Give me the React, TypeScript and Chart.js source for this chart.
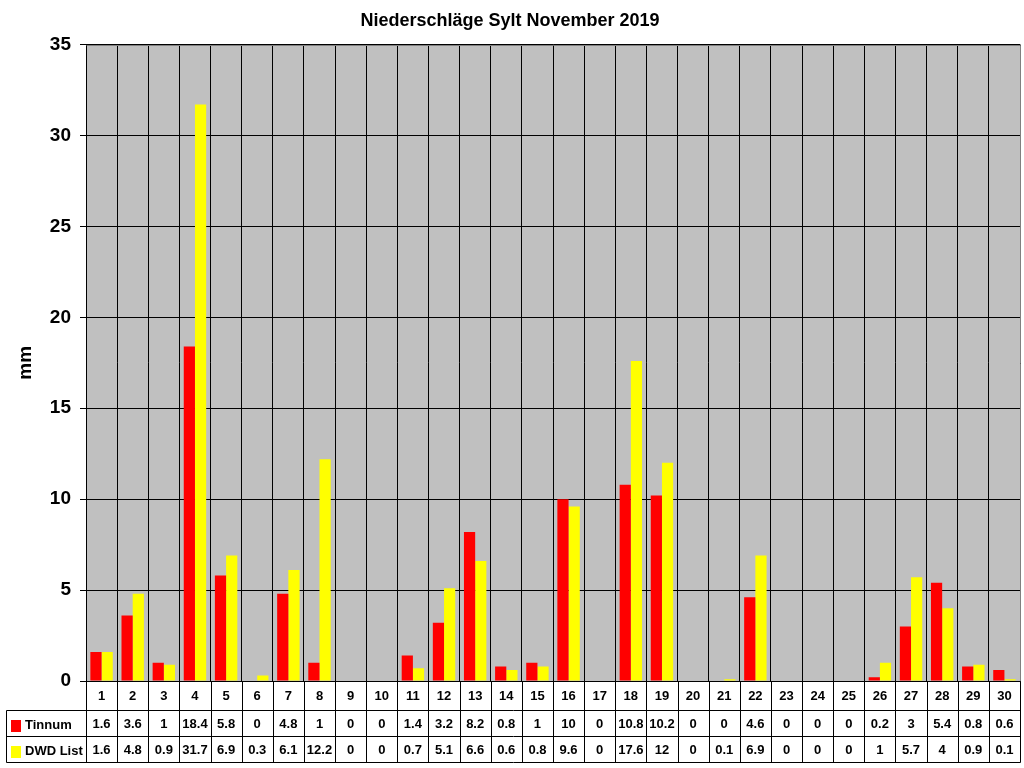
import { useEffect, useRef } from "react";
import { Chart, registerables } from "chart.js";

Chart.register(...registerables);

const days = ["1","2","3","4","5","6","7","8","9","10","11","12","13","14","15","16","17","18","19","20","21","22","23","24","25","26","27","28","29","30"];
const tinnum = [1.6, 3.6, 1, 18.4, 5.8, 0, 4.8, 1, 0, 0, 1.4, 3.2, 8.2, 0.8, 1, 10, 0, 10.8, 10.2, 0, 0, 4.6, 0, 0, 0, 0.2, 3, 5.4, 0.8, 0.6];
const dwdList = [1.6, 4.8, 0.9, 31.7, 6.9, 0.3, 6.1, 12.2, 0, 0, 0.7, 5.1, 6.6, 0.6, 0.8, 9.6, 0, 17.6, 12, 0, 0.1, 6.9, 0, 0, 0, 1, 5.7, 4, 0.9, 0.1];
const seriesNames = ["Tinnum", "DWD List"];
const seriesColors = ["#FF0000", "#FFFF00"];
const yMin = 0;
const yMax = 35;
const yStep = 5;
const titleText = "Niederschläge Sylt November 2019";
const yTitle = "mm";

const FONT = "'Liberation Sans', Arial, sans-serif";

const tablePlugin = {
  id: "dataTable",
  beforeDraw(chart: any) {
    const { ctx, chartArea } = chart;
    const { left, top, right, bottom } = chartArea;
    ctx.save();
    ctx.fillStyle = "#C0C0C0";
    ctx.fillRect(left, top, right - left, bottom - top);
    ctx.restore();
  },
  afterDraw(chart: any) {
    const { ctx, chartArea } = chart;
    const { left, top, right, bottom } = chartArea;
    const xs = chart.scales.x;
    const n = chart.data.labels.length;
    const w = xs.getPixelForValue(1) - xs.getPixelForValue(0);
    const px = (v: number) => Math.round(v) + 0.5;

    ctx.save();
    ctx.strokeStyle = "#808080";
    ctx.lineWidth = 1;
    ctx.beginPath();
    ctx.moveTo(px(left), px(top));
    ctx.lineTo(px(right), px(top));
    ctx.lineTo(px(right), px(bottom));
    ctx.stroke();

    const r0 = bottom;
    const r1 = bottom + 29;
    const r2 = r1 + 26;
    const r3 = r2 + 26;
    const tableLeft = 6;

    ctx.strokeStyle = "#000";
    ctx.beginPath();
    ctx.moveTo(px(left), px(r0));
    ctx.lineTo(px(right), px(r0));
    [r1, r2, r3].forEach((y) => {
      ctx.moveTo(px(tableLeft), px(y));
      ctx.lineTo(px(right), px(y));
    });
    ctx.moveTo(px(tableLeft), px(r1));
    ctx.lineTo(px(tableLeft), px(r3));
    for (let i = 0; i <= n; i++) {
      const x = xs.getPixelForValue(0) - w / 2 + i * w;
      ctx.moveTo(px(x), px(r0));
      ctx.lineTo(px(x), px(r3));
    }
    ctx.stroke();

    const rows = [
      { top: r1, bottom: r2 },
      { top: r2, bottom: r3 },
    ];
    chart.data.datasets.forEach((ds: any, di: number) => {
      const row = rows[di];
      const cy = (row.top + row.bottom) / 2;
      ctx.fillStyle = ds.backgroundColor;
      ctx.fillRect(11, row.top + 10, 10, 12);
      ctx.fillStyle = "#000";
      ctx.font = `bold 13px ${FONT}`;
      ctx.textAlign = "left";
      ctx.textBaseline = "middle";
      ctx.fillText(ds.label, 25, cy + 2);
      ctx.textAlign = "center";
      ds.data.forEach((v: number, i: number) => {
        ctx.fillText(String(v), xs.getPixelForValue(i), cy + 1);
      });
    });
    ctx.restore();
  },
};

export default function App() {
  const ref = useRef<HTMLCanvasElement>(null);
  useEffect(() => {
    if (!ref.current) return;
    const chart = new Chart(ref.current, {
      type: "bar",
      data: {
        labels: days,
        datasets: [
          { label: seriesNames[0], data: tinnum, backgroundColor: seriesColors[0], borderWidth: 0 },
          { label: seriesNames[1], data: dwdList, backgroundColor: seriesColors[1], borderWidth: 0 },
        ],
      },
      options: {
        responsive: false,
        animation: false,
        devicePixelRatio: 1,
        layout: { padding: { left: 0, right: 4, top: 0, bottom: 0 } },
        datasets: {
          bar: { categoryPercentage: 0.72, barPercentage: 1 },
        },
        plugins: {
          legend: { display: false },
          tooltip: { enabled: false },
          title: {
            display: true,
            text: titleText,
            color: "#000",
            font: { family: FONT, size: 18, weight: "bold", lineHeight: 1.2 },
            padding: { top: 10, bottom: 13 },
          },
        },
        scales: {
          x: {
            offset: true,
            grid: { display: true, color: "#000", drawTicks: false, offset: true, lineWidth: 1 },
            border: { display: true, color: "#000" },
            ticks: {
              color: "#000",
              font: { family: FONT, size: 13, weight: "bold" },
              padding: 8,
              maxRotation: 0,
              autoSkip: false,
            },
            afterFit: (scale: any) => {
              scale.height = 87;
            },
          },
          y: {
            min: yMin,
            max: yMax,
            grid: { color: "#000", tickColor: "#000", tickLength: 6, drawTicks: true, lineWidth: 1 },
            border: { display: true, color: "#000" },
            ticks: {
              stepSize: yStep,
              color: "#000",
              font: { family: FONT, size: 19, weight: "bold" },
              padding: 9,
            },
            title: {
              display: true,
              text: yTitle,
              color: "#000",
              font: { family: FONT, size: 19, weight: "bold", lineHeight: 1.2 },
              padding: { top: 14, bottom: 0 },
            },
            afterFit: (scale: any) => {
              scale.width = 86;
            },
          },
        },
      },
      plugins: [tablePlugin],
    } as any);
    return () => chart.destroy();
  }, []);
  return (
    <div style={{ position: "absolute", left: 0, top: 0, width: 1024, height: 768, background: "#fff" }}>
      <canvas ref={ref} width={1024} height={768} style={{ display: "block" }} />
    </div>
  );
}
